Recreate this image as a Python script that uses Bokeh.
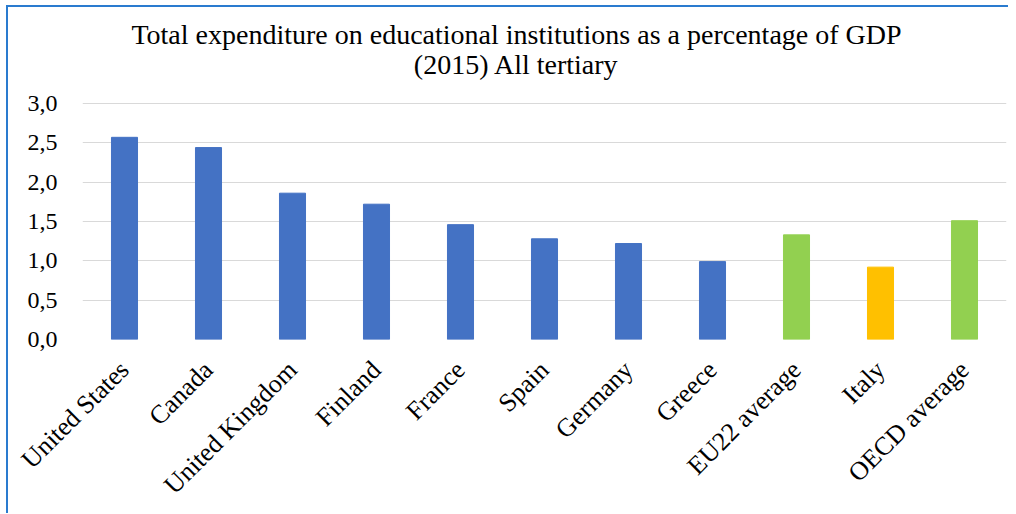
import math
from bokeh.plotting import figure
from bokeh.models import Range1d, FactorRange, FixedTicker, ColumnDataSource, Label, InlineStyleSheet
from bokeh.embed import file_html
from bokeh.resources import INLINE

categories = ["United States", "Canada", "United Kingdom", "Finland", "France", "Spain",
              "Germany", "Greece", "EU22 average", "Italy", "OECD average"]
values = [2.57, 2.44, 1.86, 1.72, 1.46, 1.28, 1.22, 0.99, 1.33, 0.92, 1.51]
groups = ["country"] * 8 + ["average", "italy", "average"]
y_ticks = [0.0, 0.5, 1.0, 1.5, 2.0, 2.5, 3.0]
y_tick_labels = ["0,0", "0,5", "1,0", "1,5", "2,0", "2,5", "3,0"]
title_lines = ["Total expenditure on educational institutions as a percentage of GDP",
               "(2015) All tertiary"]

palette = {"country": "#4472C4", "average": "#92D050", "italy": "#FFC000"}
colors = [palette[g] for g in groups]

src = ColumnDataSource(dict(cat=categories, val=values, color=colors))

SERIF = "Liberation Serif"
FRAME_W = 924
AXIS_H = 236          # pixel height of the 0..3 value band
FRAME_H = 327         # frame extends upward to hold the title
Y_MAX = 3.0 * FRAME_H / AXIS_H

p = figure(x_range=FactorRange(factors=categories, range_padding=0),
           y_range=Range1d(0, Y_MAX),
           frame_width=FRAME_W, frame_height=FRAME_H,
           min_border_left=74, min_border_right=2, min_border_top=5, min_border_bottom=160,
           output_backend="svg", toolbar_location=None, title=None)
p.stylesheets = [InlineStyleSheet(css=":host { margin-left: 6px; margin-top: 5px; "
                                      "border-left: 2px solid #2A7BCF; border-top: 2px solid #2A7BCF; }")]

# title lines, placed relative to the plot frame (screen units, from frame bottom)
for txt, dy in zip(title_lines, (305, 275)):
    p.add_layout(Label(x=434, y=dy, x_units="screen", y_units="screen",
                       text=txt, text_align="center", text_baseline="middle",
                       text_font=SERIF, text_font_size="28px", text_color="#000000"))

p.vbar(x="cat", top="val", width=0.31, fill_color="color", line_color="color", source=src)

p.outline_line_color = None
p.xgrid.grid_line_color = None
p.ygrid.grid_line_color = "#D9D9D9"
p.ygrid.grid_line_width = 1

p.yaxis.ticker = FixedTicker(ticks=y_ticks)
p.yaxis.major_label_overrides = {k: v for k, v in zip(y_ticks, y_tick_labels)}
for ax in (p.xaxis, p.yaxis):
    ax.axis_line_color = None
    ax.major_tick_line_color = None
    ax.minor_tick_line_color = None
    ax.major_label_text_font = SERIF
    ax.major_label_text_color = "#000000"
p.yaxis.major_label_text_font_size = "24px"
p.xaxis.major_label_text_font_size = "26px"
p.yaxis.major_label_standoff = 19
p.xaxis.major_label_orientation = math.pi / 4
p.xaxis.major_label_standoff = 20

open("out.html", "w").write(file_html(p, INLINE))
